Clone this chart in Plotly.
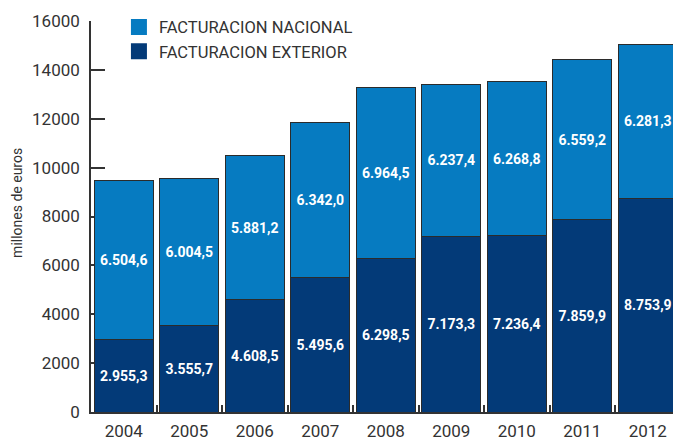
import plotly.graph_objects as go

years = ["2004", "2005", "2006", "2007", "2008", "2009", "2010", "2011", "2012"]
exterior = [2955.3, 3555.7, 4608.5, 5495.6, 6298.5, 7173.3, 7236.4, 7859.9, 8753.9]
nacional = [6504.6, 6004.5, 5881.2, 6342.0, 6964.5, 6237.4, 6268.8, 6559.2, 6281.3]
y_ticks = [0, 2000, 4000, 6000, 8000, 10000, 12000, 14000, 16000]

C_NAC = "#067bc1"
C_EXT = "#033a78"
FONT = "Roboto, sans-serif"
TXT = "#333333"

fig = go.Figure()
fig.add_bar(x=years, y=exterior, name="FACTURACION EXTERIOR", marker=dict(color=C_EXT, line=dict(color="#2b2b2b", width=1)),
            texttemplate="<b>%{y:,.1f}</b>", textposition="inside", insidetextanchor="middle", textangle=0,
            textfont=dict(color="white", size=14, family=FONT), constraintext="none", showlegend=False)
fig.add_bar(x=years, y=nacional, name="FACTURACION NACIONAL", marker=dict(color=C_NAC, line=dict(color="#2b2b2b", width=1)),
            texttemplate="<b>%{y:,.1f}</b>", textposition="inside", insidetextanchor="middle", textangle=0,
            textfont=dict(color="white", size=14, family=FONT), constraintext="none", showlegend=False)

# legend entries
fig.add_scatter(x=[None], y=[None], mode="markers", name="FACTURACION NACIONAL", legendgroup="a",
                marker=dict(symbol="square", size=16, color=C_NAC))
fig.add_scatter(x=[None], y=[None], mode="markers", name="FACTURACION EXTERIOR", legendgroup="b",
                marker=dict(symbol="square", size=16, color=C_EXT))

fig.update_layout(
    width=673, height=441,
    margin=dict(l=91, r=0, t=21, b=29, autoexpand=False),
    barmode="stack", bargap=0.1,
    separators=",.",
    plot_bgcolor="white", paper_bgcolor="white",
    font=dict(family=FONT, color=TXT),
    legend=dict(x=0.048, y=1.029, xanchor="left", yanchor="top", bgcolor="rgba(0,0,0,0)",
                font=dict(size=16.5, color=TXT, family=FONT), tracegroupgap=11, traceorder="normal"),
    xaxis=dict(type="category", range=[-0.5, 8.385], showline=True, linecolor="#333333", linewidth=1.5,
               ticks="inside", tickson="boundaries", ticklen=7, tickcolor="#333333", tickwidth=1.5,
               tickfont=dict(size=17, color=TXT, family=FONT), layer="below traces", showgrid=False,
               automargin=False, ticklabelstandoff=3),
    yaxis=dict(range=[0, 16000], tickvals=y_ticks, tickformat="d", showline=True, linecolor="#333333", linewidth=1.5,
               ticks="inside", ticklen=14, tickcolor="#333333", tickwidth=1.5, showgrid=False, zeroline=False,
               tickfont=dict(size=17, color=TXT, family=FONT), layer="below traces", ticklabelstandoff=6,
               automargin=False),
    annotations=[dict(text="millones de euros", textangle=-90, xref="paper", yref="paper",
                      x=-0.127, y=0.535, xanchor="center", yanchor="middle", showarrow=False,
                      font=dict(size=14, color=TXT, family=FONT))],
)

fig.write_html("out.html", config={"displayModeBar": False},
               post_script="document.body.style.margin='0';document.body.style.overflow='hidden';")
